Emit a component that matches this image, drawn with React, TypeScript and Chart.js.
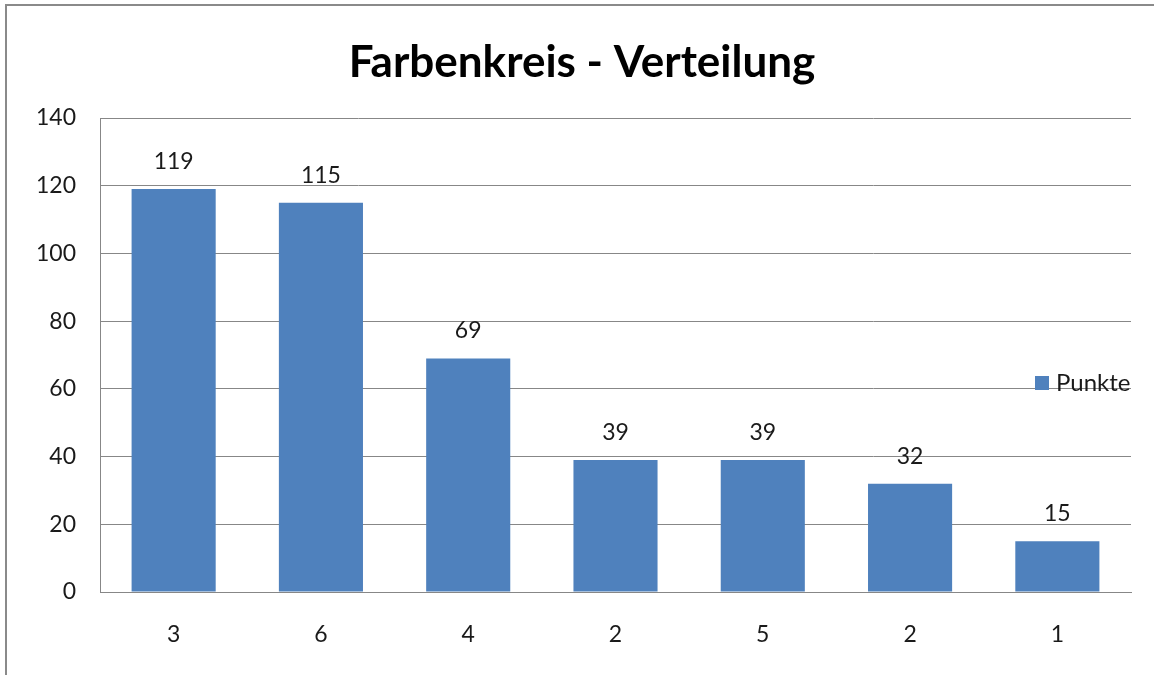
import React, { useEffect, useRef } from "react";
import { Chart, registerables } from "chart.js";

Chart.register(...registerables);

const TITLE = "Farbenkreis - Verteilung";
const SERIES_NAME = "Punkte";
const CATEGORIES = ["3", "6", "4", "2", "5", "2", "1"];
const VALUES = [119, 115, 69, 39, 39, 32, 15];
const Y_MIN = 0;
const Y_MAX = 140;
const Y_STEP = 20;

const BAR_COLOR = "#4F81BD";
const GRID_COLOR = "#878787";
const TEXT_COLOR = "#1a1a1a";
const FONT = "Lato, 'Open Sans', sans-serif";

const framePlugin = {
  id: "frame",
  beforeDraw(chart: any) {
    const ctx = chart.ctx;
    ctx.save();
    ctx.fillStyle = "#ffffff";
    ctx.fillRect(0, 0, chart.width, chart.height);
    ctx.strokeStyle = "#8a8a8a";
    ctx.lineWidth = 2;
    ctx.beginPath();
    ctx.moveTo(6, chart.height);
    ctx.lineTo(6, 5);
    ctx.lineTo(chart.width, 5);
    ctx.stroke();
    ctx.restore();
  },
};

const titlePlugin = {
  id: "customTitle",
  afterDraw(chart: any) {
    const ctx = chart.ctx;
    ctx.save();
    ctx.fillStyle = "#000";
    ctx.font = `bold 44px ${FONT}`;
    ctx.textAlign = "center";
    ctx.textBaseline = "alphabetic";
    ctx.fillText(TITLE, 582, 77);
    ctx.restore();
  },
};

const valueLabelPlugin = {
  id: "valueLabels",
  afterDatasetsDraw(chart: any) {
    const ctx = chart.ctx;
    const meta = chart.getDatasetMeta(0);
    ctx.save();
    ctx.fillStyle = TEXT_COLOR;
    ctx.font = `23px ${FONT}`;
    ctx.textAlign = "center";
    ctx.textBaseline = "alphabetic";
    meta.data.forEach((el: any, i: number) => {
      ctx.fillText(String(VALUES[i]), el.x, el.y - 20);
    });
    ctx.restore();
  },
};

const legendPlugin = {
  id: "customLegend",
  afterDraw(chart: any) {
    const ctx = chart.ctx;
    ctx.save();
    ctx.fillStyle = BAR_COLOR;
    ctx.fillRect(1035, 376, 14, 14);
    ctx.fillStyle = TEXT_COLOR;
    ctx.font = `24px ${FONT}`;
    ctx.textAlign = "left";
    ctx.textBaseline = "alphabetic";
    ctx.fillText(SERIES_NAME, 1056, 391);
    ctx.restore();
  },
};

export default function App() {
  const ref = useRef<HTMLCanvasElement | null>(null);

  useEffect(() => {
    if (!ref.current) return;
    const chart = new Chart(ref.current, {
      type: "bar",
      data: {
        labels: CATEGORIES,
        datasets: [
          {
            label: SERIES_NAME,
            data: VALUES,
            backgroundColor: BAR_COLOR,
            borderWidth: 0,
            barPercentage: 0.571,
            categoryPercentage: 1,
          },
        ],
      },
      options: {
        responsive: false,
        animation: false,
        layout: { padding: { top: 118, right: 23, bottom: 20, left: 0 } },
        plugins: {
          legend: { display: false },
          title: { display: false },
          tooltip: { enabled: false },
        },
        scales: {
          x: {
            grid: { display: false, drawTicks: false },
            border: { display: true, color: GRID_COLOR, width: 1 },
            ticks: {
              color: TEXT_COLOR,
              font: { family: FONT, size: 23 },
              padding: 29,
              maxRotation: 0,
              autoSkip: false,
            },
            afterFit(scale: any) {
              scale.height = 63;
            },
          },
          y: {
            min: Y_MIN,
            max: Y_MAX,
            grid: { color: GRID_COLOR, lineWidth: 1, drawTicks: false },
            border: { display: true, color: GRID_COLOR, width: 1 },
            ticks: {
              stepSize: Y_STEP,
              color: TEXT_COLOR,
              font: { family: FONT, size: 23 },
              padding: 24,
            },
            afterFit(scale: any) {
              scale.width = 100;
            },
          },
        },
      },
      plugins: [framePlugin, titlePlugin, valueLabelPlugin, legendPlugin],
    });
    return () => chart.destroy();
  }, []);

  return (
    <div style={{ position: "absolute", left: 0, top: 0, width: 1154, height: 675 }}>
      <canvas ref={ref} width={1154} height={675} />
    </div>
  );
}
